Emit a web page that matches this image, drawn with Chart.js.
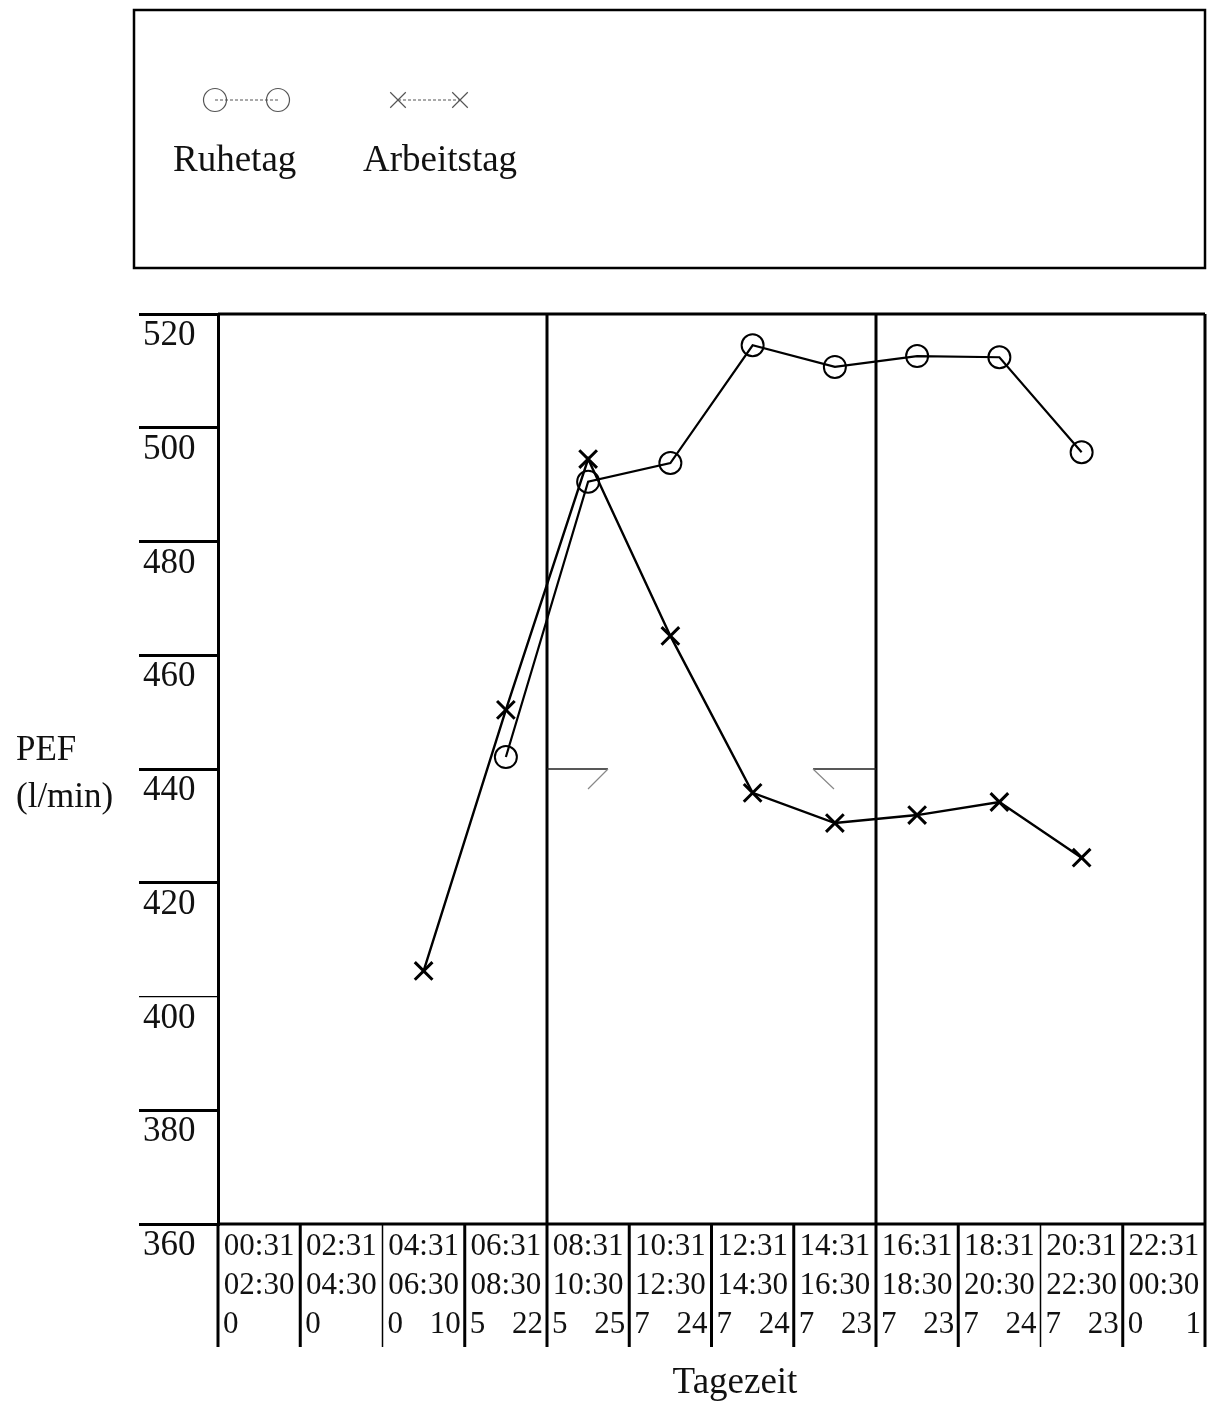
<!DOCTYPE html>
<html>
<head>
<meta charset="utf-8">
<script src="https://cdn.jsdelivr.net/npm/chart.js@4/dist/chart.umd.min.js"></script>
<style>
  html, body { margin: 0; padding: 0; background: #fff; }
  #wrap { width: 1208px; height: 1403px; }
</style>
</head>
<body>
<div id="wrap"><canvas id="pef" width="1208" height="1403"></canvas></div>
<script>
// Two-hour periods of the day (start / end)
const periodStart = ['00:31','02:31','04:31','06:31','08:31','10:31','12:31','14:31','16:31','18:31','20:31','22:31'];
const periodEnd   = ['02:30','04:30','06:30','08:30','10:30','12:30','14:30','16:30','18:30','20:30','22:30','00:30'];

// Number of measurements per period
const restCounts = [0, 0, 0, 5, 5, 7, 7, 7, 7, 7, 7, 0];
const workCounts = [null, null, 10, 22, 25, 24, 24, 23, 23, 24, 23, 1];

// Mean PEF (l/min) per period
const restPEF = [null, null, null, 442.1, 490.5, 493.8, 514.5, 510.7, 512.6, 512.4, 495.7, null];
const workPEF = [null, null, 404.5, 450.4, 494.5, 463.4, 435.8, 430.5, 431.9, 434.2, 424.4, null];

// Y axis range
const yMin = 360, yMax = 520, yStep = 20;

// Shift boundaries drawn through the plot
const shiftStarts = ['08:31', '16:31'];
const referencePEF = 440;

const SERIF = '"Liberation Serif", "Times New Roman", serif';
const INK = '#111';

const categories = periodStart.map((s, i) => s + '-' + periodEnd[i]);

const framePlugin = {
  id: 'frameAndTable',
  afterDraw(chart) {
    const { ctx, chartArea: ca } = chart;
    const xs = chart.scales.x, ys = chart.scales.y;
    const half = (xs.getPixelForValue(1) - xs.getPixelForValue(0)) / 2;
    ctx.save();
    ctx.strokeStyle = '#000';
    ctx.lineCap = 'butt';

    // plot frame (top, right, bottom)
    ctx.lineWidth = 3;
    ctx.beginPath();
    ctx.moveTo(ca.left, ca.top); ctx.lineTo(ca.right, ca.top);
    ctx.moveTo(ca.right, ca.top); ctx.lineTo(ca.right, ca.bottom);
    ctx.moveTo(ca.left, ca.bottom); ctx.lineTo(ca.right, ca.bottom);
    ctx.stroke();

    // shift boundaries inside the plot
    shiftStarts.forEach(s => {
      const i = periodStart.indexOf(s);
      const x = xs.getPixelForValue(i) - half;
      ctx.lineWidth = 3;
      ctx.beginPath(); ctx.moveTo(x, ca.top); ctx.lineTo(x, ca.bottom); ctx.stroke();
    });

    // reference marks at 440 next to the shift boundaries
    const yRef = ys.getPixelForValue(referencePEF);
    const b1 = xs.getPixelForValue(periodStart.indexOf(shiftStarts[0])) - half;
    const b2 = xs.getPixelForValue(periodStart.indexOf(shiftStarts[1])) - half;
    ctx.lineWidth = 1.6;
    ctx.strokeStyle = '#222';
    ctx.beginPath();
    ctx.moveTo(b1, yRef); ctx.lineTo(b1 + 61, yRef);
    ctx.moveTo(b2 - 63, yRef); ctx.lineTo(b2, yRef);
    ctx.stroke();
    ctx.lineWidth = 1.2;
    ctx.strokeStyle = '#888';
    ctx.beginPath();
    ctx.moveTo(b1 + 61, yRef); ctx.lineTo(b1 + 41, yRef + 20);
    ctx.moveTo(b2 - 63, yRef); ctx.lineTo(b2 - 42, yRef + 20);
    ctx.stroke();

    // period table under the plot
    const tableBottom = ca.bottom + 123;
    const thinRules = [2, 10];
    ctx.strokeStyle = '#000';
    for (let k = 0; k <= periodStart.length; k++) {
      const x = k < periodStart.length ? xs.getPixelForValue(k) - half : xs.getPixelForValue(k - 1) + half;
      ctx.lineWidth = thinRules.includes(k) ? 1.5 : 3;
      ctx.beginPath(); ctx.moveTo(x, ca.bottom); ctx.lineTo(x, tableBottom); ctx.stroke();
    }
    ctx.fillStyle = INK;
    ctx.font = '31px ' + SERIF;
    ctx.textBaseline = 'alphabetic';
    periodStart.forEach((s, i) => {
      const cx = xs.getPixelForValue(i);
      ctx.textAlign = 'center';
      ctx.fillText(s, cx, ca.bottom + 31);
      ctx.fillText(periodEnd[i], cx, ca.bottom + 70);
      if (restCounts[i] !== null) {
        ctx.textAlign = 'left';
        ctx.fillText(String(restCounts[i]), cx - half + 5, ca.bottom + 109);
      }
      if (workCounts[i] !== null) {
        ctx.textAlign = 'right';
        ctx.fillText(String(workCounts[i]), cx + half - 4, ca.bottom + 109);
      }
    });

    // axis titles
    ctx.font = '37px ' + SERIF;
    ctx.textAlign = 'center';
    ctx.fillText('Tagezeit', 735, 1393);
    ctx.textAlign = 'left';
    ctx.font = '35px ' + SERIF;
    ctx.fillText('PEF', 16, 760);
    ctx.fillText('(l/min)', 16, 807);

    // legend box
    ctx.lineWidth = 2.5;
    ctx.strokeStyle = '#000';
    ctx.strokeRect(134, 10, 1071, 258);
    const items = [
      { ds: chart.data.datasets[0], x1: 215, x2: 278, tx: 173, r: 11.5 },
      { ds: chart.data.datasets[1], x1: 398, x2: 460, tx: 363, r: 11 }
    ];
    items.forEach(it => {
      ctx.strokeStyle = '#555';
      ctx.lineWidth = 1.2;
      ctx.setLineDash([3, 2]);
      ctx.beginPath(); ctx.moveTo(it.x1, 100); ctx.lineTo(it.x2, 100); ctx.stroke();
      ctx.setLineDash([]);
      ctx.fillStyle = 'rgba(0,0,0,0)';
      ctx.strokeStyle = '#555';
      [it.x1, it.x2].forEach(px => {
        Chart.helpers.drawPoint(ctx, {
          pointStyle: it.ds.pointStyle, radius: it.r,
          borderWidth: 1.4, rotation: 0
        }, px, 100);
      });
      ctx.fillStyle = INK;
      ctx.font = '37px ' + SERIF;
      ctx.textAlign = 'left';
      ctx.fillText(it.ds.label, it.tx, 171);
    });
    ctx.restore();
  }
};

new Chart(document.getElementById('pef'), {
  type: 'line',
  data: {
    labels: categories,
    datasets: [
      {
        label: 'Ruhetag',
        data: restPEF,
        borderColor: '#000',
        borderWidth: 2.2,
        tension: 0,
        pointStyle: 'circle',
        pointRadius: 11,
        pointBorderWidth: 2,
        pointBorderColor: '#000',
        pointBackgroundColor: 'rgba(0,0,0,0)'
      },
      {
        label: 'Arbeitstag',
        data: workPEF,
        borderColor: '#000',
        borderWidth: 2.4,
        tension: 0,
        pointStyle: 'crossRot',
        pointRadius: 12.5,
        pointBorderWidth: 3,
        pointBorderColor: '#000',
        pointBackgroundColor: '#000'
      }
    ]
  },
  options: {
    responsive: false,
    animation: false,
    events: [],
    layout: { autoPadding: false, padding: { left: 143, top: 314, right: 3, bottom: 179 } },
    plugins: { legend: { display: false }, tooltip: { enabled: false } },
    scales: {
      x: {
        type: 'category',
        offset: true,
        display: false
      },
      y: {
        min: yMin,
        max: yMax,
        ticks: {
          stepSize: yStep,
          crossAlign: 'far',
          labelOffset: 22,
          color: INK,
          font: { family: SERIF, size: 35 }
        },
        grid: {
          drawOnChartArea: false,
          tickLength: 79,
          color: '#000',
          lineWidth: c => (c.tick && c.tick.value === 400 ? 1.2 : 3)
        },
        border: { display: true, color: '#000', width: 3 },
        afterFit(scale) { scale.width = 75; }
      }
    }
  },
  plugins: [framePlugin]
});
</script>
</body>
</html>
